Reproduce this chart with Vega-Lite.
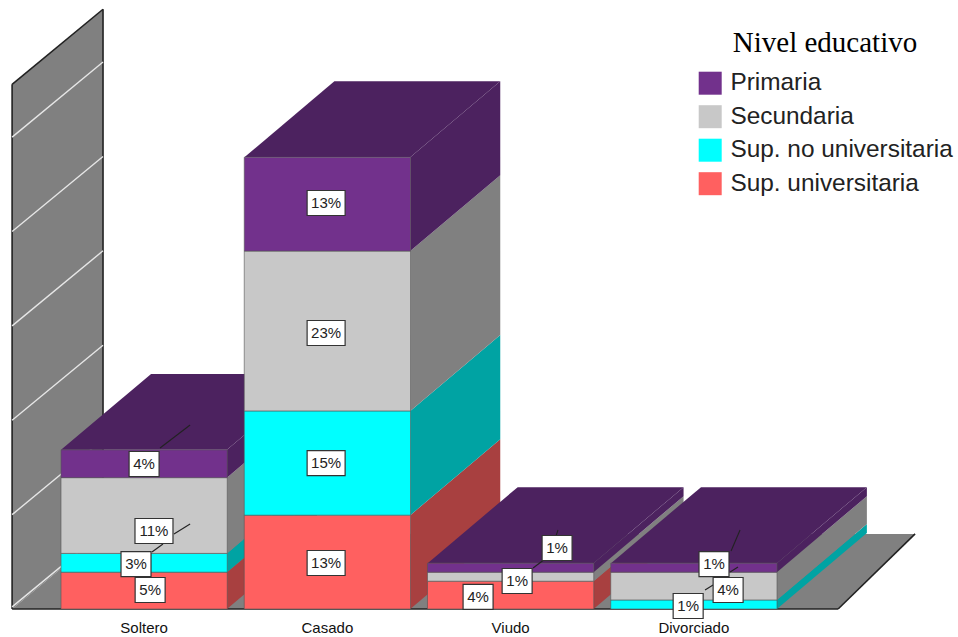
{"$schema":"https://vega.github.io/schema/vega-lite/v6.json","width":958,"height":637,"padding":0,"autosize":{"type":"none"},"background":"white","config":{"view":{"stroke":null}},
"datasets":{
"barras":[
{"estado":"Soltero","nivel":"Sup. universitaria","orden":1,"valor":5.3},{"estado":"Soltero","nivel":"Sup. no universitaria","orden":2,"valor":2.7},{"estado":"Soltero","nivel":"Secundaria","orden":3,"valor":10.9},{"estado":"Soltero","nivel":"Primaria","orden":4,"valor":4.0},
{"estado":"Casado","nivel":"Sup. universitaria","orden":1,"valor":13.5},{"estado":"Casado","nivel":"Sup. no universitaria","orden":2,"valor":15.0},{"estado":"Casado","nivel":"Secundaria","orden":3,"valor":23.0},{"estado":"Casado","nivel":"Primaria","orden":4,"valor":13.5},
{"estado":"Viudo","nivel":"Sup. universitaria","orden":1,"valor":4.0},{"estado":"Viudo","nivel":"Secundaria","orden":3,"valor":1.3},{"estado":"Viudo","nivel":"Primaria","orden":4,"valor":1.3},
{"estado":"Divorciado","nivel":"Sup. no universitaria","orden":2,"valor":1.3},{"estado":"Divorciado","nivel":"Secundaria","orden":3,"valor":4.0},{"estado":"Divorciado","nivel":"Primaria","orden":4,"valor":1.3}],
"fondo":[
{"parte":"pared","u":-0.267,"p":0,"p2":75.5},{"parte":"pared","u":0.229,"p":10.8,"p2":86.3},
{"parte":"suelo","u":-0.267,"p":0,"p2":0},{"parte":"suelo","u":0.229,"p":0,"p2":10.8},{"parte":"suelo","u":4.239,"p":0,"p2":10.8},{"parte":"suelo","u":4.659,"p":10.8,"p2":10.8}],
"bordes":[
{"u":-0.267,"p":0,"u2":-0.267,"p2":75.5},{"u":-0.267,"p":75.5,"u2":0.229,"p2":86.3},{"u":0.229,"p":10.8,"u2":0.229,"p2":86.3},{"u":-0.267,"p":0,"u2":4.239,"p2":0},{"u":4.239,"p":0,"u2":4.659,"p2":10.8}],
"rejilla":[
{"u":-0.267,"p":0.3,"u2":0.229,"p2":11.1},{"u":-0.267,"p":13.58,"u2":0.229,"p2":24.38},{"u":-0.267,"p":27.16,"u2":0.229,"p2":37.96},{"u":-0.267,"p":40.74,"u2":0.229,"p2":51.54},{"u":-0.267,"p":54.32,"u2":0.229,"p2":65.12},{"u":-0.267,"p":67.9,"u2":0.229,"p2":78.7}],
"caras":[
{"cara":"S-r","tono":"r","u":0.905,"p":0,"p2":5.3},{"cara":"S-r","tono":"r","u":1.396,"p":10.93,"p2":16.23},
{"cara":"S-c","tono":"c","u":0.905,"p":5.3,"p2":8.0},{"cara":"S-c","tono":"c","u":1.396,"p":16.23,"p2":18.93},
{"cara":"S-g","tono":"g","u":0.905,"p":8.0,"p2":18.9},{"cara":"S-g","tono":"g","u":1.396,"p":18.93,"p2":29.83},
{"cara":"S-m","tono":"m","u":0.905,"p":18.9,"p2":22.9},{"cara":"S-m","tono":"m","u":1.396,"p":29.83,"p2":33.83},
{"cara":"S-t","tono":"m","u":0,"p":22.9,"p2":22.9},{"cara":"S-t","tono":"m","u":0.491,"p":22.9,"p2":33.83},{"cara":"S-t","tono":"m","u":0.905,"p":22.9,"p2":33.83},{"cara":"S-t","tono":"m","u":1.396,"p":33.83,"p2":33.83},
{"cara":"C-r","tono":"r","u":1.905,"p":0,"p2":13.5},{"cara":"C-r","tono":"r","u":2.396,"p":10.93,"p2":24.43},
{"cara":"C-c","tono":"c","u":1.905,"p":13.5,"p2":28.5},{"cara":"C-c","tono":"c","u":2.396,"p":24.43,"p2":39.43},
{"cara":"C-g","tono":"g","u":1.905,"p":28.5,"p2":51.5},{"cara":"C-g","tono":"g","u":2.396,"p":39.43,"p2":62.43},
{"cara":"C-m","tono":"m","u":1.905,"p":51.5,"p2":65},{"cara":"C-m","tono":"m","u":2.396,"p":62.43,"p2":75.93},
{"cara":"C-t","tono":"m","u":1,"p":65,"p2":65},{"cara":"C-t","tono":"m","u":1.491,"p":65,"p2":75.93},{"cara":"C-t","tono":"m","u":1.905,"p":65,"p2":75.93},{"cara":"C-t","tono":"m","u":2.396,"p":75.93,"p2":75.93},
{"cara":"V-r","tono":"r","u":2.905,"p":0,"p2":4},{"cara":"V-r","tono":"r","u":3.396,"p":10.93,"p2":14.93},
{"cara":"V-g","tono":"g","u":2.905,"p":4,"p2":5.3},{"cara":"V-g","tono":"g","u":3.396,"p":14.93,"p2":16.23},
{"cara":"V-m","tono":"m","u":2.905,"p":5.3,"p2":6.6},{"cara":"V-m","tono":"m","u":3.396,"p":16.23,"p2":17.53},
{"cara":"V-t","tono":"m","u":2,"p":6.6,"p2":6.6},{"cara":"V-t","tono":"m","u":2.491,"p":6.6,"p2":17.53},{"cara":"V-t","tono":"m","u":2.905,"p":6.6,"p2":17.53},{"cara":"V-t","tono":"m","u":3.396,"p":17.53,"p2":17.53},
{"cara":"D-c","tono":"c","u":3.905,"p":0,"p2":1.3},{"cara":"D-c","tono":"c","u":4.396,"p":10.93,"p2":12.23},
{"cara":"D-g","tono":"g","u":3.905,"p":1.3,"p2":5.3},{"cara":"D-g","tono":"g","u":4.396,"p":12.23,"p2":16.23},
{"cara":"D-m","tono":"m","u":3.905,"p":5.3,"p2":6.6},{"cara":"D-m","tono":"m","u":4.396,"p":16.23,"p2":17.53},
{"cara":"D-t","tono":"m","u":3,"p":6.6,"p2":6.6},{"cara":"D-t","tono":"m","u":3.491,"p":6.6,"p2":17.53},{"cara":"D-t","tono":"m","u":3.905,"p":6.6,"p2":17.53},{"cara":"D-t","tono":"m","u":4.396,"p":17.53,"p2":17.53}],
"guias":[
{"u":0.54,"p":23.17,"u2":0.704,"p2":26.47},{"u":0.616,"p":10.79,"u2":0.704,"p2":12.23},{"u":0.496,"p":8.2,"u2":0.556,"p2":9.35},{"u":2.575,"p":5.9,"u2":2.64,"p2":7.19},{"u":2.7,"p":10.5,"u2":2.711,"p2":11.37},{"u":3.655,"p":8.35,"u2":3.704,"p2":11.37},{"u":3.65,"p":5.32,"u2":3.693,"p2":6.04},{"u":3.513,"p":2.73,"u2":3.557,"p2":3.45}],
"etiquetas":[
{"texto":"4%","caja":"a","u":0.453,"p":20.86},{"texto":"11%","caja":"b","u":0.507,"p":11.22},{"texto":"3%","caja":"a","u":0.409,"p":6.47},{"texto":"5%","caja":"a","u":0.486,"p":2.73},
{"texto":"13%","caja":"b","u":1.446,"p":58.42},{"texto":"23%","caja":"b","u":1.446,"p":39.71},{"texto":"15%","caja":"b","u":1.446,"p":21.0},{"texto":"13%","caja":"b","u":1.446,"p":6.62},
{"texto":"4%","caja":"a","u":2.275,"p":1.73},{"texto":"1%","caja":"a","u":2.488,"p":4.03},{"texto":"1%","caja":"a","u":2.706,"p":8.78},
{"texto":"1%","caja":"a","u":3.562,"p":6.47},{"texto":"4%","caja":"a","u":3.639,"p":2.73},{"texto":"1%","caja":"a","u":3.421,"p":0.43}]
},
"resolve":{"scale":{"x":"independent","color":"independent"}},
"layer":[
{"data":{"name":"fondo"},"mark":{"type":"area","color":"#808080","orient":"vertical"},"encoding":{"x":{"field":"u","type":"quantitative","scale":{"domain":[-0.333,4.893],"nice":false,"zero":false},"axis":null},"y":{"field":"p","type":"quantitative","stack":null,"scale":{"domain":[-4.03,87.63],"nice":false,"zero":false},"axis":null},"y2":{"field":"p2"},"detail":{"field":"parte"}}},
{"data":{"name":"bordes"},"mark":{"type":"rule","color":"#222222","strokeWidth":1.6},"encoding":{"x":{"field":"u","type":"quantitative","scale":{"domain":[-0.333,4.893],"nice":false,"zero":false},"axis":null},"x2":{"field":"u2"},"y":{"field":"p","type":"quantitative"},"y2":{"field":"p2"}}},
{"data":{"name":"rejilla"},"mark":{"type":"rule","color":"#e6e6e6","strokeWidth":1.4},"encoding":{"x":{"field":"u","type":"quantitative","scale":{"domain":[-0.333,4.893],"nice":false,"zero":false},"axis":null},"x2":{"field":"u2"},"y":{"field":"p","type":"quantitative"},"y2":{"field":"p2"}}},
{"data":{"name":"caras"},"mark":{"type":"area","orient":"vertical"},"encoding":{"x":{"field":"u","type":"quantitative","scale":{"domain":[-0.333,4.893],"nice":false,"zero":false},"axis":null},"y":{"field":"p","type":"quantitative","stack":null},"y2":{"field":"p2"},"detail":{"field":"cara"},"color":{"field":"tono","type":"nominal","scale":{"domain":["m","g","c","r"],"range":["#4c225f","#808080","#00a3a3","#a84040"]},"legend":null}}},
{"data":{"name":"barras"},"mark":{"type":"bar","stroke":"#555555","strokeWidth":0.6},"encoding":{"x":{"field":"estado","type":"nominal","sort":["Soltero","Casado","Viudo","Divorciado"],"scale":{"domain":["Soltero","Casado","Viudo","Divorciado"],"range":[61,777],"paddingInner":0.0927,"paddingOuter":0},"axis":{"title":null,"domain":false,"ticks":false,"labelAngle":0,"labelFont":"Liberation Sans","labelFontSize":15,"labelColor":"#111111","labelPadding":11,"offset":-28}},"y":{"field":"valor","type":"quantitative","stack":"zero"},"order":{"field":"orden","type":"quantitative"},"color":{"field":"nivel","type":"nominal","scale":{"domain":["Primaria","Secundaria","Sup. no universitaria","Sup. universitaria"],"range":["#72318c","#c8c8c8","#00ffff","#ff6060"]},"legend":{"title":"Nivel educativo","orient":"none","legendX":698,"legendY":29,"padding":0,"titleFont":"Liberation Serif","titleFontSize":29,"titleFontWeight":"normal","titleColor":"#000000","titleAnchor":"middle","titleLimit":400,"titlePadding":13,"labelFont":"Liberation Sans","labelFontSize":24.4,"labelColor":"#222222","labelOffset":8,"labelLimit":300,"symbolType":"square","symbolSize":529,"symbolStrokeWidth":0,"symbolOpacity":1,"rowPadding":8.5}}}},
{"data":{"name":"guias"},"mark":{"type":"rule","color":"#222222","strokeWidth":1.1},"encoding":{"x":{"field":"u","type":"quantitative","scale":{"domain":[-0.333,4.893],"nice":false,"zero":false},"axis":null},"x2":{"field":"u2"},"y":{"field":"p","type":"quantitative"},"y2":{"field":"p2"}}},
{"data":{"name":"etiquetas"},"mark":{"type":"point","filled":true,"fill":"white","fillOpacity":1,"stroke":"#333333","strokeWidth":1.2,"strokeOpacity":1,"size":4},"encoding":{"x":{"field":"u","type":"quantitative","scale":{"domain":[-0.333,4.893],"nice":false,"zero":false},"axis":null},"y":{"field":"p","type":"quantitative"},"shape":{"field":"caja","type":"nominal","scale":{"domain":["a","b"],"range":["M-15,-12.5H15V12.5H-15Z","M-19,-12.5H19V12.5H-19Z"]},"legend":null}}},
{"data":{"name":"etiquetas"},"mark":{"type":"text","font":"Liberation Sans","fontSize":15,"color":"#222222","align":"center","baseline":"middle"},"encoding":{"x":{"field":"u","type":"quantitative","scale":{"domain":[-0.333,4.893],"nice":false,"zero":false},"axis":null},"y":{"field":"p","type":"quantitative"},"text":{"field":"texto"}}}
]}
